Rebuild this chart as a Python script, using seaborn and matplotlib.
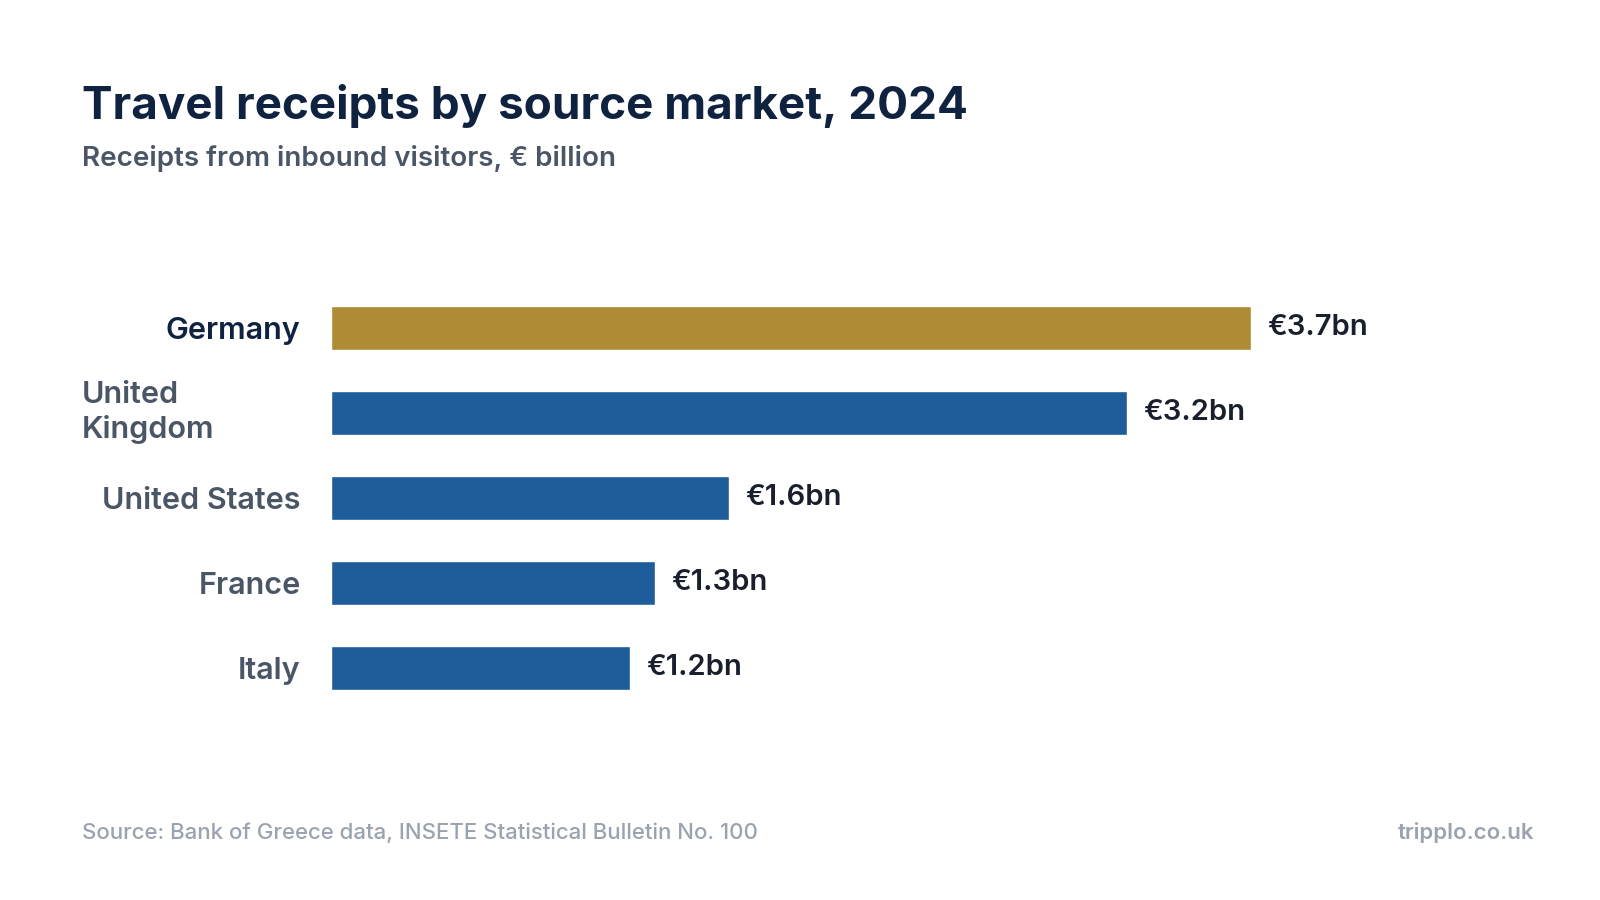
import matplotlib
matplotlib.use("Agg")
import matplotlib.pyplot as plt
import matplotlib.transforms as mtransforms
import seaborn as sns
import pandas as pd

# === DATA ===
markets = ["Germany", "United\nKingdom", "United States", "France", "Italy"]
receipts = [3.7, 3.2, 1.6, 1.3, 1.2]
value_labels = ["€3.7bn", "€3.2bn", "€1.6bn", "€1.3bn", "€1.2bn"]

sns.set_theme(style="white")
plt.rcParams["font.family"] = ["Inter", "DejaVu Sans"]

GOLD = "#B08B35"
BLUE = "#1F5C9A"
NAVY = "#0F2341"
GREY = "#4A5565"
LIGHT = "#9AA3AF"

df = pd.DataFrame({"market": markets, "receipts": receipts})
palette = [GOLD] + [BLUE] * (len(markets) - 1)

fig = plt.figure(figsize=(16, 9), dpi=100)
ax = fig.add_axes([0.207, 0.192, 0.757, 0.51])
sns.barplot(data=df, x="receipts", y="market", hue="market", palette=palette,
            legend=False, width=0.52, ax=ax, saturation=1)
ax.set_xlim(0, 4.87)
ax.set_ylim(4.7, -0.7)
ax.set_xlabel("")
ax.set_ylabel("")
ax.set_xticks([])
sns.despine(ax=ax, left=True, bottom=True)
ax.tick_params(axis="y", length=0, pad=22)

# wrapped label sits flush with the left margin, as in the original
blend = mtransforms.blended_transform_factory(fig.transFigure, ax.transData)
for i, lab in enumerate(ax.get_yticklabels()):
    lab.set_fontsize(22)
    lab.set_ha("right")
    lab.set_fontweight("semibold")
    lab.set_color(NAVY if i == 0 else GREY)
    if "\n" in markets[i]:
        lab.set_visible(False)
        ax.text(0.051, i, markets[i], transform=blend, ha="left", va="center",
                fontsize=22, fontweight="semibold", color=GREY, linespacing=1.25)

for i, (v, t) in enumerate(zip(receipts, value_labels)):
    ax.text(v + 0.065, i, t, va="center", ha="left", fontsize=21,
            fontweight="semibold", color="#1A1F2E")

fig.text(0.051, 0.868, "Travel receipts by source market, 2024", fontsize=33,
         fontweight="bold", color=NAVY, va="baseline")
fig.text(0.051, 0.815, "Receipts from inbound visitors, € billion", fontsize=20,
         fontweight="semibold", color=GREY, va="baseline")
fig.text(0.051, 0.068, "Source: Bank of Greece data, INSETE Statistical Bulletin No. 100",
         fontsize=16, color=LIGHT, fontweight="medium", va="baseline")
fig.text(0.959, 0.068, "tripplo.co.uk", fontsize=16, color=LIGHT,
         fontweight="semibold", ha="right", va="baseline")

fig.savefig("out.png", dpi=100, facecolor="white")
